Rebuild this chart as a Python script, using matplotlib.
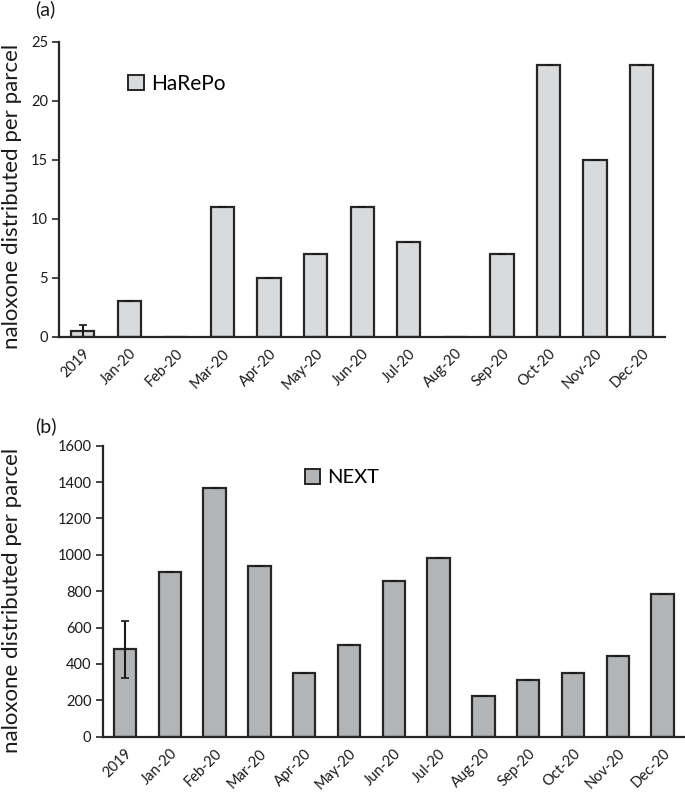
import matplotlib
matplotlib.use("Agg")
import matplotlib.pyplot as plt
import numpy as np
from matplotlib.patches import Patch

plt.rcParams['font.family'] = ['Lato', 'DejaVu Sans']

categories = ["2019", "Jan-20", "Feb-20", "Mar-20", "Apr-20", "May-20", "Jun-20",
              "Jul-20", "Aug-20", "Sep-20", "Oct-20", "Nov-20", "Dec-20"]
harepo = [0.45, 3, 0, 11, 5, 7, 11, 8, 0, 7, 23, 15, 23]
harepo_err = [0.55, 0, 0, 0, 0, 0, 0, 0, 0, 0, 0, 0, 0]
next_vals = [480, 905, 1367, 940, 352, 504, 858, 982, 224, 312, 352, 442, 784]
next_err = [158, 0, 0, 0, 0, 0, 0, 0, 0, 0, 0, 0, 0]
harepo_ticks = [0, 5, 10, 15, 20, 25]
next_ticks = [0, 200, 400, 600, 800, 1000, 1200, 1400, 1600]

W, H = 685, 795
fig = plt.figure(figsize=(W / 100, H / 100), dpi=100)

def px_axes(x0, y_top, x1, y_bot):
    return fig.add_axes([x0 / W, 1 - y_bot / H, (x1 - x0) / W, (y_bot - y_top) / H])

edge = "#262626"
ylabel = "naloxone distributed per parcel"

def draw(ax, vals, errs, color, ticks, label, legend_xy, legend_fs):
    x = np.arange(len(categories))
    ax.bar(x, vals, width=0.5, color=color, edgecolor=edge, linewidth=1.6,
           yerr=errs, capsize=3, error_kw=dict(ecolor="#1a1a1a", elinewidth=1.5, capthick=1.2),
           zorder=2)
    ax.set_xlim(-0.5, len(categories) - 0.5)
    ax.set_ylim(ticks[0], ticks[-1])
    ax.set_yticks(ticks)
    ax.set_yticklabels([str(t) for t in ticks], fontsize=10.5, color="#1a1a1a")
    ax.set_xticks(x)
    ax.set_xticklabels(categories, rotation=45, ha="right", rotation_mode="anchor",
                       fontsize=10.5, color="#1a1a1a")
    ax.tick_params(axis="x", length=0, pad=7)
    ax.tick_params(axis="y", length=5, width=1.2, color=edge, pad=3)
    for s in ("top", "right"):
        ax.spines[s].set_visible(False)
    for s in ("left", "bottom"):
        ax.spines[s].set_color(edge)
        ax.spines[s].set_linewidth(1.6)
    ax.legend(handles=[Patch(facecolor=color, edgecolor=edge, linewidth=1.4, label=label)],
              loc="upper left", bbox_to_anchor=legend_xy, frameon=False,
              fontsize=legend_fs, handlelength=0.75, handleheight=0.75, handletextpad=0.35,
              borderaxespad=0, borderpad=0)

ax1 = px_axes(59.3, 41.7, 665, 336.7)
draw(ax1, harepo, harepo_err, "#d9dadb", harepo_ticks, "HaRePo",
     ((128 - 59.3) / (665 - 59.3), (336.7 - 74) / 295), 15)

ax2 = px_axes(102.6, 445.7, 685, 736.7)
draw(ax2, next_vals, next_err, "#b3b4b5", next_ticks, "NEXT",
     ((305 - 102.6) / (685 - 102.6), (736.7 - 469) / 291), 14.5)

fig.text(12.5 / W, 1 - 196 / H, ylabel, rotation=90, fontsize=16, va="center", ha="center",
         color="#1a1a1a")
fig.text(12.5 / W, 1 - 600 / H, ylabel, rotation=90, fontsize=16, va="center", ha="center",
         color="#1a1a1a")

fig.text(35 / W, 1 - 9 / H, "(a)", fontsize=14, va="center", ha="left", color="#1a1a1a")
fig.text(35 / W, 1 - 426 / H, "(b)", fontsize=14, va="center", ha="left", color="#1a1a1a")

fig.savefig("out.png", dpi=100)
